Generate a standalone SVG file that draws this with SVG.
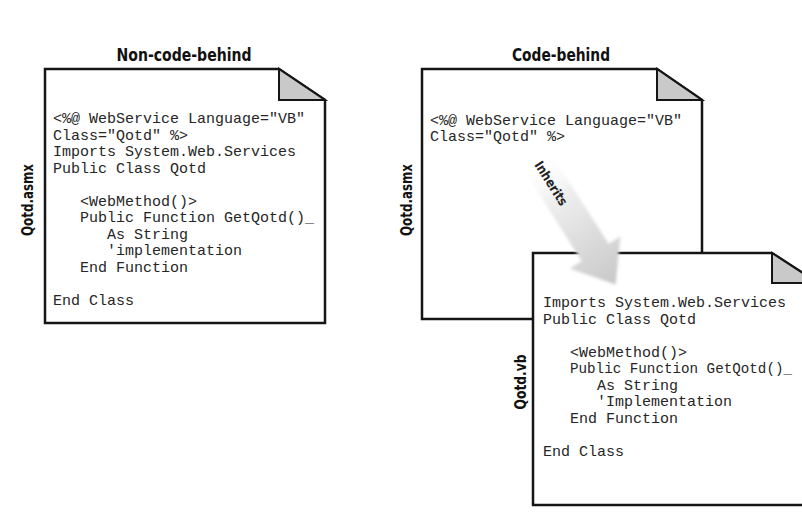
<svg xmlns="http://www.w3.org/2000/svg" width="802" height="512" viewBox="0 0 802 512">
  <style>
    .doc { fill: #ffffff; stroke: #151515; stroke-width: 2.5; stroke-linejoin: miter; }
    .fold { fill: #c9c9c9; stroke: #151515; stroke-width: 2; stroke-linejoin: miter; }
    .code { font-family: "Liberation Mono", "DejaVu Sans Mono", monospace; font-size: 15px; fill: #262626; }
    .title { font-family: "DejaVu Sans Condensed", "Liberation Sans Narrow", "Liberation Sans", sans-serif; font-stretch: condensed; font-weight: bold; font-size: 17px; fill: #111; text-anchor: middle; }
    .label { font-family: "DejaVu Sans Condensed", "Liberation Sans Narrow", "Liberation Sans", sans-serif; font-stretch: condensed; font-weight: bold; font-size: 16px; fill: #111; text-anchor: middle; }
    .arrowtext { font-family: "DejaVu Sans Condensed", "Liberation Sans Narrow", "Liberation Sans", sans-serif; font-stretch: condensed; font-weight: bold; font-size: 13px; fill: #222; text-anchor: middle; }
  </style>
  <defs>
    <linearGradient id="arrowGrad" gradientUnits="userSpaceOnUse" x1="0" y1="0" x2="150" y2="0">
      <stop offset="0" stop-color="#ffffff" stop-opacity="0"/>
      <stop offset="0.3" stop-color="#efefef"/>
      <stop offset="1" stop-color="#c8c8c8"/>
    </linearGradient>
    <filter id="soft" x="-20%" y="-20%" width="140%" height="140%">
      <feGaussianBlur stdDeviation="1.5"/>
    </filter>
  </defs>
  <rect x="0" y="0" width="802" height="512" fill="#ffffff"/>

  <text class="title" x="184" y="61" textLength="135" lengthAdjust="spacingAndGlyphs">Non-code-behind</text>
  <text class="title" x="561" y="61" textLength="98" lengthAdjust="spacingAndGlyphs">Code-behind</text>

  <g id="node-noncode-asmx">
    <path class="doc" d="M45,69 H279 L325,100 V323 H45 Z"/>
    <path class="fold" d="M279,69 V100 H325 Z"/>
    <text class="label" transform="translate(33,200) rotate(-90)" textLength="72" lengthAdjust="spacingAndGlyphs">Qotd.asmx</text>
    <text class="code" x="53" y="123">&lt;%@ WebService Language="VB"</text>
    <text class="code" x="53" y="139.5">Class="Qotd" %&gt;</text>
    <text class="code" x="53" y="156">Imports System.Web.Services</text>
    <text class="code" x="53" y="172.5">Public Class Qotd</text>
    <text class="code" x="80" y="205.5">&lt;WebMethod()&gt;</text>
    <text class="code" x="80" y="222">Public Function GetQotd()_</text>
    <text class="code" x="107" y="238.5">As String</text>
    <text class="code" x="107" y="255">'implementation</text>
    <text class="code" x="80" y="271.5">End Function</text>
    <text class="code" x="53" y="304.5">End Class</text>
  </g>

  <g id="node-code-asmx">
    <path class="doc" d="M422,69 H657 L702,100 V319 H422 Z"/>
    <path class="fold" d="M657,69 V100 H702 Z"/>
    <text class="label" transform="translate(412,200) rotate(-90)" textLength="72" lengthAdjust="spacingAndGlyphs">Qotd.asmx</text>
    <text class="code" x="430" y="125">&lt;%@ WebService Language="VB"</text>
    <text class="code" x="430" y="141">Class="Qotd" %&gt;</text>
  </g>

  <g id="node-code-vb">
    <path class="doc" d="M533,253 H772 L818,283 V505 H533 Z"/>
    <path class="fold" d="M772,253 V283 H818 Z"/>
    <text class="label" transform="translate(526,382) rotate(-90)" textLength="55" lengthAdjust="spacingAndGlyphs">Qotd.vb</text>
    <text class="code" x="543" y="307">Imports System.Web.Services</text>
    <text class="code" x="543" y="323.5">Public Class Qotd</text>
    <text class="code" x="570" y="356.5">&lt;WebMethod()&gt;</text>
    <text class="code" x="570" y="373" textLength="222" lengthAdjust="spacingAndGlyphs">Public Function GetQotd()_</text>
    <text class="code" x="597" y="389.5">As String</text>
    <text class="code" x="597" y="406">'Implementation</text>
    <text class="code" x="570" y="422.5">End Function</text>
    <text class="code" x="543" y="455.5">End Class</text>
  </g>

  <g id="connectors">
    <g id="edge-inherits" transform="translate(535,158) rotate(57.5)">
      <path d="M0,-16 L112,-16 L112,-30 L150,0 L112,30 L112,16 L0,16 Z" fill="url(#arrowGrad)" filter="url(#soft)"/>
      <text class="arrowtext" x="30" y="4.5" textLength="50" lengthAdjust="spacingAndGlyphs">Inherits</text>
    </g>
  </g>
</svg>
